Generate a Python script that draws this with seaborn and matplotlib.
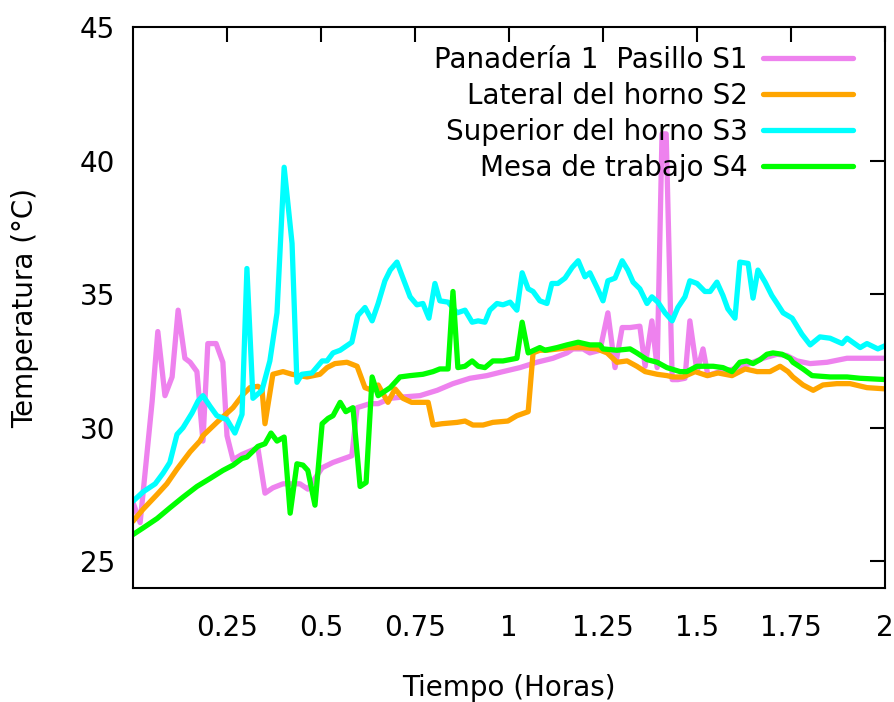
import numpy as np
import pandas as pd
import matplotlib
matplotlib.use("Agg")
import matplotlib.pyplot as plt
import seaborn as sns

# ---------------- data ----------------
s1_x = [0.000, 0.019, 0.051, 0.066, 0.085, 0.104, 0.120, 0.138, 0.152, 0.170, 0.186, 0.199, 0.221,
        0.239, 0.250, 0.266, 0.290, 0.332, 0.351, 0.372, 0.399, 0.444, 0.465, 0.503, 0.532, 0.582,
        0.596, 0.630, 0.652, 0.684, 0.718, 0.763, 0.809, 0.851, 0.896, 0.941, 0.984, 1.029, 1.074,
        1.117, 1.154, 1.170, 1.197, 1.215, 1.242, 1.263, 1.282, 1.301, 1.322, 1.348, 1.362, 1.380,
        1.394, 1.407, 1.418, 1.434, 1.449, 1.468, 1.481, 1.500, 1.516, 1.529, 1.560, 1.600, 1.640,
        1.676, 1.713, 1.739, 1.766, 1.801, 1.846, 1.899, 2.005]
s1_y = [27.2, 26.45, 31.0, 33.6, 31.2, 31.9, 34.4, 32.6, 32.45, 32.1, 29.5, 33.15, 33.15,
        32.45, 29.7, 28.8, 29.0, 29.25, 27.55, 27.75, 27.9, 27.9, 27.7, 28.5, 28.7, 28.95,
        30.75, 30.9, 30.9, 31.1, 31.15, 31.2, 31.4, 31.65, 31.85, 31.95, 32.1, 32.25, 32.45,
        32.6, 32.8, 32.95, 32.95, 32.8, 32.9, 34.3, 32.25, 33.75, 33.75, 33.8, 32.3, 34.0,
        32.25, 41.0, 41.0, 31.8, 31.8, 31.85, 34.0, 32.1, 32.95, 31.95, 32.1, 32.2, 32.4,
        32.6, 32.75, 32.7, 32.5, 32.4, 32.45, 32.6, 32.6]

s2_x = [0.000, 0.027, 0.064, 0.090, 0.117, 0.152, 0.178, 0.186, 0.223, 0.266, 0.293, 0.311, 0.332,
        0.343, 0.351, 0.372, 0.399, 0.423, 0.463, 0.497, 0.516, 0.537, 0.569, 0.596, 0.617, 0.636,
        0.652, 0.678, 0.697, 0.718, 0.741, 0.785, 0.798, 0.822, 0.862, 0.883, 0.904, 0.931, 0.957,
        0.997, 1.021, 1.051, 1.064, 1.082, 1.101, 1.162, 1.197, 1.234, 1.261, 1.287, 1.314, 1.340,
        1.362, 1.394, 1.420, 1.436, 1.463, 1.495, 1.527, 1.556, 1.593, 1.628, 1.660, 1.694, 1.721,
        1.742, 1.755, 1.782, 1.809, 1.835, 1.872, 1.907, 1.952, 2.005]
s2_y = [26.5, 26.95, 27.5, 27.9, 28.45, 29.1, 29.5, 29.7, 30.2, 30.75, 31.25, 31.5, 31.55,
        31.45, 30.15, 32.0, 32.1, 32.0, 31.9, 32.0, 32.25, 32.4, 32.45, 32.3, 31.5, 31.4,
        31.6, 30.95, 31.45, 31.1, 30.95, 30.95, 30.1, 30.15, 30.2, 30.25, 30.1, 30.1, 30.2,
        30.25, 30.45, 30.6, 32.8, 32.9, 32.9, 33.0, 33.0, 32.95, 32.8, 32.45, 32.5, 32.3,
        32.1, 32.0, 31.95, 31.9, 31.9, 32.1, 31.95, 32.05, 31.95, 32.2, 32.1, 32.1, 32.3,
        32.1, 31.9, 31.6, 31.4, 31.6, 31.65, 31.65, 31.5, 31.45]

s3_x = [0.000, 0.027, 0.059, 0.080, 0.098, 0.117, 0.133, 0.157, 0.173, 0.186, 0.205, 0.223, 0.250,
        0.271, 0.290, 0.303, 0.319, 0.343, 0.364, 0.383, 0.402, 0.423, 0.436, 0.449, 0.476, 0.503,
        0.516, 0.532, 0.551, 0.582, 0.598, 0.617, 0.636, 0.652, 0.670, 0.684, 0.702, 0.718, 0.737,
        0.755, 0.771, 0.787, 0.803, 0.816, 0.838, 0.862, 0.883, 0.902, 0.918, 0.936, 0.949, 0.968,
        0.984, 1.003, 1.021, 1.035, 1.051, 1.064, 1.082, 1.101, 1.114, 1.130, 1.149, 1.168, 1.184,
        1.202, 1.215, 1.234, 1.250, 1.263, 1.282, 1.301, 1.316, 1.330, 1.348, 1.367, 1.380, 1.396,
        1.415, 1.434, 1.449, 1.468, 1.481, 1.500, 1.521, 1.535, 1.553, 1.569, 1.582, 1.601, 1.614,
        1.636, 1.649, 1.662, 1.681, 1.699, 1.713, 1.729, 1.753, 1.779, 1.801, 1.827, 1.854, 1.886,
        1.899, 1.934, 1.952, 1.981, 2.005]
s3_y = [27.25, 27.6, 27.9, 28.3, 28.7, 29.75, 30.0, 30.55, 31.0, 31.2, 30.8, 30.45, 30.3,
        29.8, 30.5, 35.96, 31.1, 31.4, 32.5, 34.3, 39.75, 36.9, 31.7, 32.0, 32.05, 32.5,
        32.5, 32.8, 32.9, 33.2, 34.2, 34.5, 34.0, 34.65, 35.5, 35.9, 36.2, 35.6, 34.9,
        34.6, 34.65, 34.1, 35.4, 34.75, 34.7, 34.3, 34.4, 33.95, 34.0, 33.95, 34.4, 34.65,
        34.6, 34.7, 34.4, 35.8, 35.2, 35.1, 34.75, 34.65, 35.4, 35.4, 35.6, 36.0, 36.25,
        35.65, 35.8, 35.25, 34.75, 35.5, 35.6, 36.25, 35.9, 35.45, 35.2, 34.65, 34.9, 34.7,
        34.3, 34.0, 34.5, 34.9, 35.5, 35.4, 35.1, 35.1, 35.45, 34.95, 34.45, 34.1, 36.2,
        36.15, 34.85, 35.9, 35.45, 34.95, 34.65, 34.3, 34.1, 33.5, 33.1, 33.4, 33.35, 33.15,
        33.35, 33.0, 33.15, 32.95, 33.1]

s4_x = [0.000, 0.027, 0.064, 0.098, 0.133, 0.170, 0.205, 0.239, 0.266, 0.290, 0.303, 0.332, 0.351,
        0.367, 0.383, 0.402, 0.418, 0.436, 0.452, 0.465, 0.484, 0.503, 0.519, 0.532, 0.551, 0.566,
        0.585, 0.604, 0.620, 0.636, 0.652, 0.684, 0.710, 0.737, 0.771, 0.798, 0.816, 0.838, 0.851,
        0.864, 0.883, 0.902, 0.918, 0.936, 0.957, 0.984, 1.021, 1.035, 1.051, 1.082, 1.096, 1.128,
        1.154, 1.184, 1.215, 1.242, 1.250, 1.287, 1.322, 1.340, 1.367, 1.394, 1.420, 1.455, 1.473,
        1.500, 1.543, 1.569, 1.593, 1.614, 1.633, 1.649, 1.668, 1.686, 1.702, 1.726, 1.747, 1.755,
        1.782, 1.806, 1.854, 1.899, 1.934, 2.005]
s4_y = [26.0, 26.25, 26.6, 27.0, 27.4, 27.8, 28.1, 28.4, 28.6, 28.85, 28.9, 29.3, 29.4,
        29.8, 29.5, 29.65, 26.8, 28.65, 28.6, 28.4, 27.1, 30.15, 30.35, 30.45, 30.95, 30.6,
        30.75, 27.8, 27.95, 31.9, 31.2, 31.5, 31.9, 31.95, 32.0, 32.1, 32.2, 32.2, 35.1,
        32.25, 32.3, 32.5, 32.3, 32.25, 32.5, 32.5, 32.6, 33.95, 32.8, 33.0, 32.9, 33.0,
        33.1, 33.2, 33.1, 33.1, 32.95, 32.9, 32.95, 32.8, 32.55, 32.45, 32.25, 32.1, 32.1,
        32.3, 32.3, 32.25, 32.1, 32.45, 32.5, 32.4, 32.55, 32.75, 32.8, 32.75, 32.6, 32.45,
        32.2, 31.95, 31.9, 31.9, 31.85, 31.8]

labels = ["Panadería 1  Pasillo S1", "Lateral del horno S2", "Superior del horno S3", "Mesa de trabajo S4"]
colors = ["#EE82EE", "#FFA500", "#00FFFF", "#00FF00"]
x_ticks = [0.25, 0.5, 0.75, 1, 1.25, 1.5, 1.75, 2]
x_tick_labels = ["0.25", "0.5", "0.75", "1", "1.25", "1.5", "1.75", "2"]
y_ticks = [25, 30, 35, 40, 45]
x_label = "Tiempo (Horas)"
y_label = "Temperatura (°C)"

# ---------------- build long table ----------------
frames = []
for xs, ys, lab in zip([s1_x, s2_x, s3_x, s4_x], [s1_y, s2_y, s3_y, s4_y], labels):
    frames.append(pd.DataFrame({"Tiempo": xs, "Temp": ys, "Serie": lab}))
df = pd.concat(frames, ignore_index=True)

sns.set_style("white")
plt.rcParams["font.family"] = ["DejaVu Sans"]
plt.rcParams["text.color"] = "black"
plt.rcParams["axes.labelcolor"] = "black"

fig = plt.figure(figsize=(8.95, 7.02), dpi=100)
ax = fig.add_axes([133 / 895, (702 - 588) / 702, 752 / 895, 561 / 702])

sns.lineplot(data=df, x="Tiempo", y="Temp", hue="Serie", hue_order=labels,
             palette=colors, linewidth=3.8, sort=False, estimator=None, ax=ax,
             legend=True)

ax.set_xlim(0, 2)
ax.set_ylim(24, 45)
ax.set_xticks(x_ticks)
ax.set_xticklabels(x_tick_labels)
ax.set_yticks(y_ticks)
ax.tick_params(axis="both", direction="in", length=11, width=1.5, colors="black",
               labelcolor="black", labelsize=20, top=True, right=True)
ax.tick_params(axis="x", pad=19)
ax.tick_params(axis="y", pad=13)
for sp in ax.spines.values():
    sp.set_visible(True)
    sp.set_linewidth(1.5)
    sp.set_color("black")

ax.set_xlabel(x_label, fontsize=20, labelpad=23, color="black")
ax.set_ylabel(y_label, fontsize=20, labelpad=29, color="black")

handles, labs = ax.get_legend_handles_labels()
leg = ax.legend(handles, labs, loc="upper right", bbox_to_anchor=(853 / 895, 1 - 46 / 702),
                bbox_transform=fig.transFigure, frameon=False, fontsize=20,
                markerfirst=False, handlelength=3.25, handletextpad=0.55,
                labelspacing=0.29, borderpad=0, borderaxespad=0, labelcolor="black")
for line in leg.get_lines():
    line.set_linewidth(3.8)

fig.savefig("out.png", dpi=100)
